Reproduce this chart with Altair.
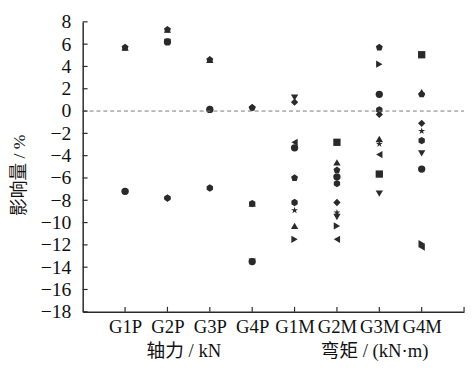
import altair as alt
import pandas as pd

categories = ["G1P", "G2P", "G3P", "G4P", "G1M", "G2M", "G3M", "G4M"]
y_ticks = [-18, -16, -14, -12, -10, -8, -6, -4, -2, 0, 2, 4, 6, 8]

# one list per marker series, one value per category (None = no marker)
s_circle = [-7.2, 6.2, 0.15, -13.5, -3.3, -5.9, 1.5, -5.2]
s_square = [None, None, None, None, None, -2.8, -5.65, 5.05]
s_tri_up = [5.7, 7.3, 4.6, -8.3, -10.3, -4.6, -2.5, 1.7]
s_tri_down = [None, 6.2, None, -13.5, 1.2, -9.5, -7.4, -3.8]
s_tri_right = [None, None, None, None, -11.5, -10.3, 4.2, -11.9]
s_tri_left = [None, None, None, None, -2.8, -11.5, -3.9, -12.2]
s_diamond = [None, -7.8, 0.15, 0.3, 0.8, -8.2, -0.3, -1.1]
s_star = [None, None, None, None, -8.9, -9.1, -2.95, -1.8]
s_pentagon = [5.7, 7.3, 4.6, 0.3, -6.0, -5.3, 5.7, 1.5]
s_hexagon = [-7.2, -7.8, -6.9, -8.3, -8.2, -6.5, 0.1, -2.65]

STAR = "M0,-1L0.2245,-0.309L0.951,-0.309L0.363,0.118L0.588,0.809L0,0.382L-0.588,0.809L-0.363,0.118L-0.951,-0.309L-0.2245,-0.309Z"
PENT = "M0,-1L0.951,-0.309L0.588,0.809L-0.588,0.809L-0.951,-0.309Z"
HEX = "M0,-1L0.866,-0.5L0.866,0.5L0,1L-0.866,0.5L-0.866,-0.5Z"

series = [
    ("circle", s_circle, "circle"),
    ("square", s_square, "square"),
    ("tri_up", s_tri_up, "triangle-up"),
    ("tri_down", s_tri_down, "triangle-down"),
    ("tri_right", s_tri_right, "triangle-right"),
    ("tri_left", s_tri_left, "triangle-left"),
    ("diamond", s_diamond, "diamond"),
    ("star", s_star, STAR),
    ("pentagon", s_pentagon, PENT),
    ("hexagon", s_hexagon, HEX),
]

rows = []
for name, vals, _ in series:
    for i, v in enumerate(vals):
        if v is not None:
            rows.append({"xi": i + 1, "v": v, "s": name})
df = pd.DataFrame(rows)

SERIF = "Liberation Serif, Times New Roman, serif"
CJK = "Liberation Serif, Noto Sans CJK SC, serif"
INK = "#2a2a2a"
W, H = 388, 295

label_arr = "[" + ",".join(["''"] + [f"'{c}'" for c in categories] + ["''"]) + "]"

xscale = alt.Scale(domain=[0, len(categories) + 1], nice=False, zero=False)
yscale = alt.Scale(domain=[-18, 8], nice=False, zero=False)

common = dict(grid=False, ticks=False, title=None, labelFont=SERIF,
              labelColor="#111", domainColor=INK, domainWidth=1.5,
              labelOverlap=False, labelFlush=False, labelBound=False)
xaxis = alt.Axis(values=list(range(1, len(categories) + 1)), labelExpr=f"{label_arr}[datum.value]",
                 labelPadding=6, labelFontSize=19, **common)
yaxis = alt.Axis(values=y_ticks, format="d", labelPadding=12, labelFontSize=20, **common)

X = alt.X("xi:Q", scale=xscale, axis=xaxis)
Y = alt.Y("v:Q", scale=yscale, axis=yaxis)

points = alt.Chart(df).mark_point(filled=True, opacity=1, size=55).encode(
    x=X, y=Y,
    shape=alt.Shape("s:N", scale=alt.Scale(domain=[s[0] for s in series], range=[s[2] for s in series]), legend=None),
    color=alt.value(INK),
)

zero_df = pd.DataFrame({"v": [0]})
zero_line = alt.Chart(zero_df).mark_rule(color="#777", strokeDash=[4, 3], strokeWidth=1).encode(
    y=Y, x=alt.value(0), x2=alt.value(W))

ytick_df = pd.DataFrame({"v": y_ticks})
ytick_marks = alt.Chart(ytick_df).mark_rule(color=INK, strokeWidth=1.2).encode(
    y=Y, x=alt.value(0), x2=alt.value(5))

xtick_df = pd.DataFrame({"xi": list(range(1, len(categories) + 2))})
xtick_marks = alt.Chart(xtick_df).mark_rule(color=INK, strokeWidth=1.2).encode(
    x=X, y=alt.value(H), y2=alt.value(H - 5))

titles_df = pd.DataFrame({"t": ["轴力 / kN", "弯矩 / (kN·m)"], "px": [103, 297]})
x_titles = alt.Chart(titles_df).mark_text(font=CJK, fontSize=19, color="#111", baseline="middle").encode(
    text="t:N", x=alt.X("px:Q", scale=None), y=alt.value(H + 40))

ytitle = alt.Chart(pd.DataFrame({"t": ["影响量 / %"]})).mark_text(
    font=CJK, fontSize=18, color="#111", angle=270, baseline="middle").encode(
    text="t:N", x=alt.value(-64), y=alt.value(156))

chart = alt.layer(points, zero_line, ytick_marks, xtick_marks, x_titles, ytitle).properties(
    width=W, height=H,
    background="white",
    autosize=alt.AutoSizeParams(type="none"),
    padding={"left": 76, "top": 11, "right": 3, "bottom": 48},
).configure_view(stroke=None)

chart.save("out.html", embed_options={"renderer": "svg", "actions": False})
